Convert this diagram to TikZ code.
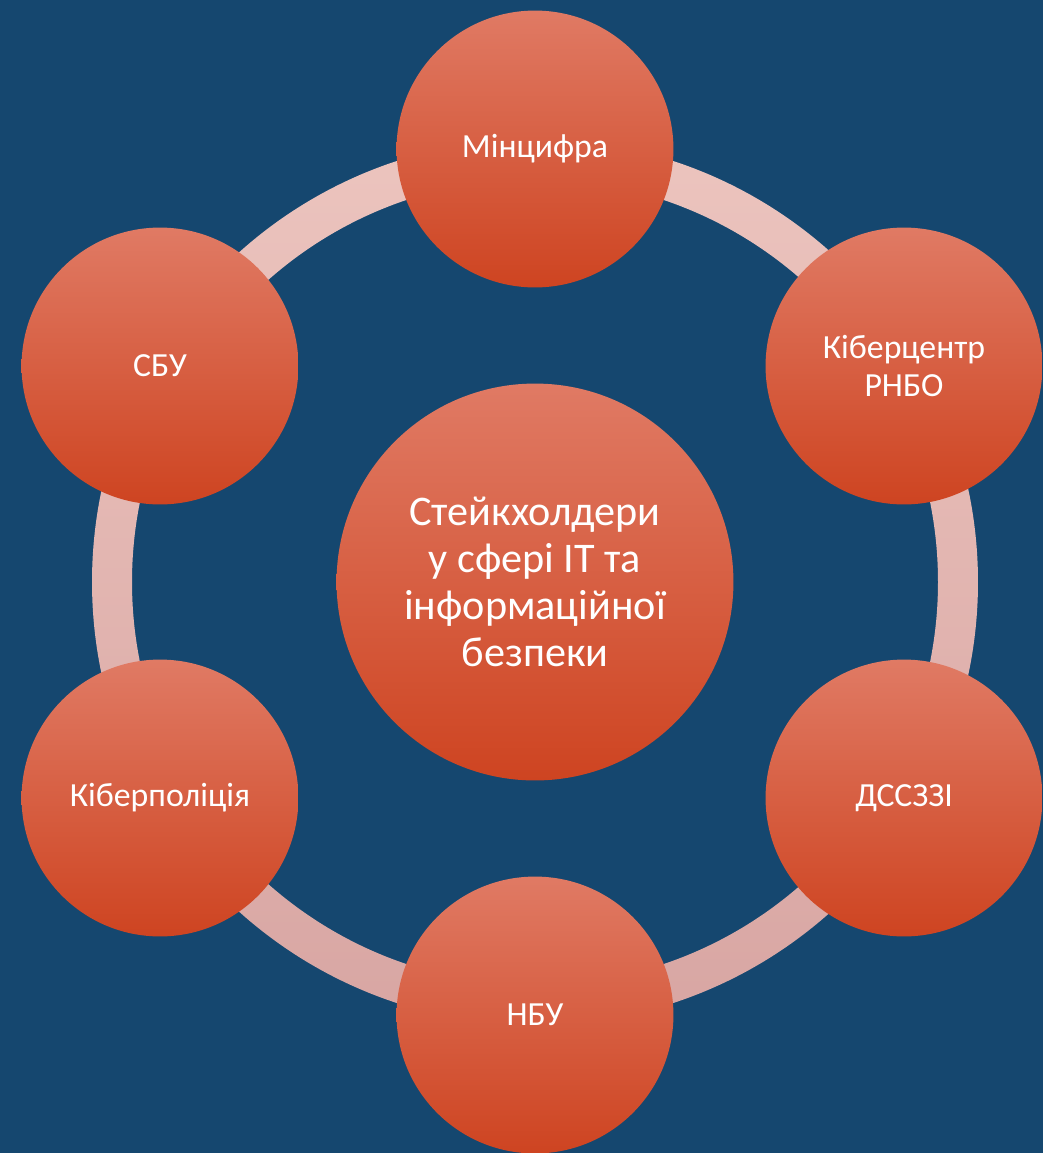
\documentclass[tikz,border=0pt]{standalone}
\usepackage{fontspec}
\setmainfont{Carlito}
\definecolor{bgblue}{HTML}{15476F}
\definecolor{discTop}{HTML}{E07A64}
\definecolor{discBot}{HTML}{CE4421}
\definecolor{ringTop}{HTML}{ECC4BE}
\definecolor{ringBot}{HTML}{D8A6A3}
\tikzset{
	disc/.style={circle, inner sep=0pt, minimum size=6.92cm, shading=axis,
		top color=discTop, bottom color=discBot, text=white, align=center,
		font=\fontsize{24}{27}\selectfont},
	hub/.style={disc, minimum size=9.92cm, font=\fontsize{30}{33.5}\selectfont}
}
\begin{document}
\begin{tikzpicture}[x=0.025cm, y=-0.025cm]
	
	\fill[bgblue] (0,0) rectangle (1043,1153);
	\clip (0,0) rectangle (1043,1153);
	
	\shade[top color=ringTop, bottom color=ringBot, even odd rule]
		(535,582) circle[radius=443] (535,582) circle[radius=403];
	
	\node[hub] (hub) at (535,582) {Стейкхолдери\\у сфері IT та\\інформаційної\\безпеки};
	\node[disc] (mincyfra) at (535,149) {Мінцифра};
	\node[disc] (rnbo) at (904,366) {Кіберцентр\\РНБО};
	\node[disc] (dsszzi) at (904,798) {ДССЗЗІ};
	\node[disc] (nbu) at (535,1015) {НБУ};
	\node[disc] (kiberpol) at (160,798) {Кіберполіція};
	\node[disc] (sbu) at (160,366) {СБУ};

\end{tikzpicture}
\end{document}
